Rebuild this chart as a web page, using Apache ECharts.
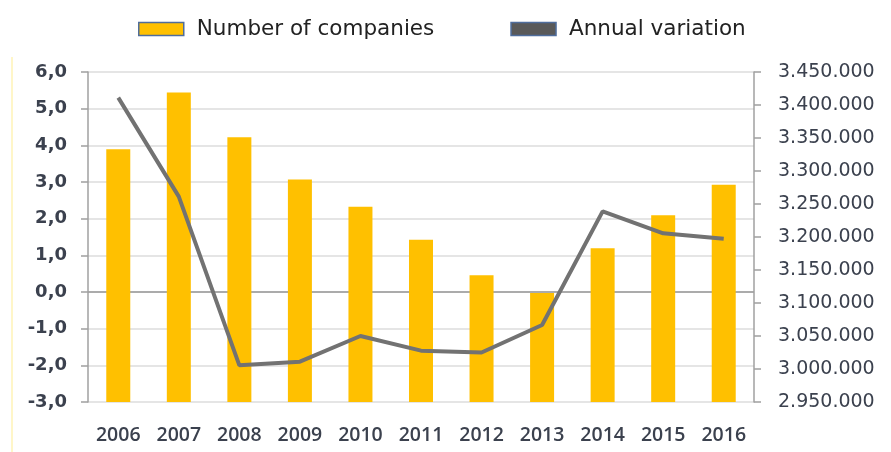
<!DOCTYPE html>
<html>
<head>
<meta charset="utf-8">
<script src="https://cdn.jsdelivr.net/npm/echarts@6/dist/echarts.min.js"></script>
<style>
  html, body { margin: 0; padding: 0; background: #fff; }
  #chart { width: 891px; height: 452px; }
</style>
</head>
<body>
<div id="chart"></div>
<script>
// Years on the category axis
const years = ['2006', '2007', '2008', '2009', '2010', '2011', '2012', '2013', '2014', '2015', '2016'];
// Number of companies (right axis)
const companies = [3333000, 3419000, 3351000, 3287000, 3246000, 3196000, 3142000, 3115000, 3183000, 3233000, 3279000];
// Annual variation, % (left axis)
const variation = [5.3, 2.6, -2.0, -1.9, -1.2, -1.6, -1.65, -0.9, 2.2, 1.6, 1.45];

const labelColor = '#3b414e';
const sans = '"DejaVu Sans", sans-serif';
const openSans = '"Open Sans", sans-serif';
const gridGrey = '#dcdcdc';
const axisGrey = '#a0a0a0';

// Light grid lines from -3 to 6, with the zero line drawn darker
const leftTicks = [-3, -2, -1, 0, 1, 2, 3, 4, 5, 6];
const splitColors = leftTicks.map(v => (v === 0 ? '#8f8f8f' : gridGrey));

const chart = echarts.init(document.getElementById('chart'));
chart.setOption({
  animation: false,
  legend: {
    top: 13,
    left: 133,
    itemGap: 76,
    itemWidth: 45,
    itemHeight: 13,
    textStyle: { fontFamily: sans, fontSize: 21.5, color: '#222', padding: [0, 0, 0, 8] },
    data: [
      { name: 'Number of companies', icon: 'rect', itemStyle: { color: '#FFC000', borderColor: '#4f6d9c', borderWidth: 1.5 } },
      { name: 'Annual variation', icon: 'rect', itemStyle: { color: '#595959', borderColor: '#4f6d9c', borderWidth: 1.5 } }
    ]
  },
  grid: { left: 88, right: 137, top: 72, bottom: 50, containLabel: false },
  xAxis: {
    type: 'category',
    data: years,
    axisLine: { show: false, onZero: false },
    axisTick: { show: false },
    axisLabel: { fontFamily: openSans, fontSize: 19.5, fontWeight: 600, color: labelColor, margin: 23 }
  },
  yAxis: [
    {
      type: 'value',
      min: -3, max: 6, interval: 1,
      position: 'left',
      axisLine: { show: true, lineStyle: { color: axisGrey, width: 1.5 } },
      axisTick: { show: true, inside: false, length: 7, lineStyle: { color: axisGrey, width: 1.5 } },
      splitLine: { lineStyle: { color: splitColors, width: 1.5 } },
      axisLabel: {
        fontFamily: sans, fontSize: 18, fontWeight: 'bold', color: labelColor, margin: 21,
        formatter: v => v.toFixed(1).replace('.', ',')
      }
    },
    {
      type: 'value',
      min: 2950000, max: 3450000, interval: 50000,
      position: 'right',
      axisLine: { show: true, lineStyle: { color: axisGrey, width: 1.5 } },
      axisTick: { show: true, inside: false, length: 7, lineStyle: { color: axisGrey, width: 1.5 } },
      splitLine: { show: false },
      axisLabel: {
        fontFamily: sans, fontSize: 19, color: labelColor, margin: 24,
        formatter: v => String(v).replace(/\B(?=(\d{3})+(?!\d))/g, '.')
      }
    }
  ],
  series: [
    {
      name: 'Number of companies',
      type: 'bar',
      yAxisIndex: 1,
      data: companies,
      barWidth: 24,
      itemStyle: { color: '#FFC000' }
    },
    {
      name: 'Annual variation',
      type: 'line',
      yAxisIndex: 0,
      data: variation,
      symbol: 'none',
      lineStyle: { color: '#727272', width: 4 },
      itemStyle: { color: '#595959' }
    }
  ],
  graphic: [
    {
      type: 'line',
      shape: { x1: 12, y1: 57, x2: 12, y2: 452 },
      style: { stroke: '#fff6c8', lineWidth: 2 }
    }
  ]
});
</script>
</body>
</html>
